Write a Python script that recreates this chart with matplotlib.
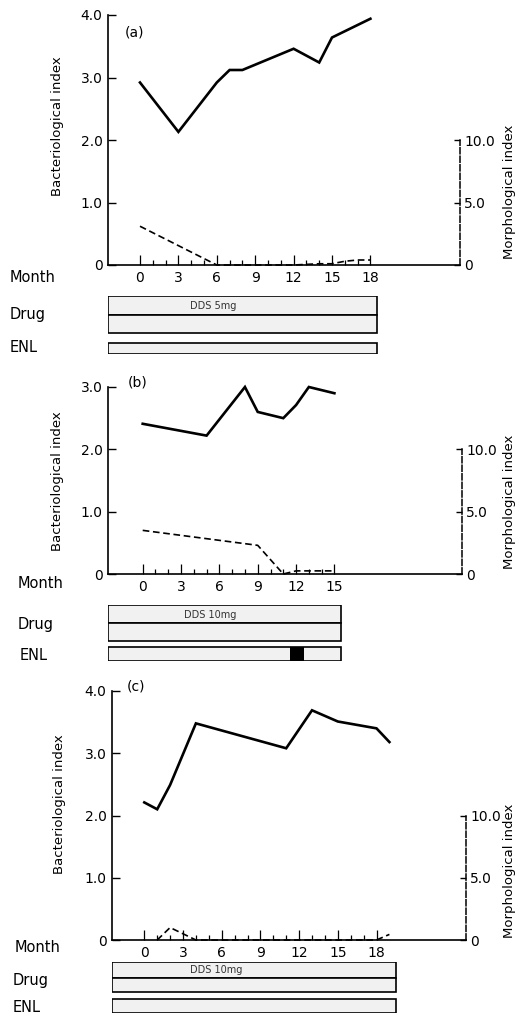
import matplotlib
matplotlib.use("Agg")
import matplotlib.pyplot as plt

# ---- data ----
panel_names = ["(a)", "(b)", "(c)"]

months_a = [0, 3, 6, 7, 8, 12, 14, 15, 18]
bi_a = [2.92, 2.13, 2.92, 3.12, 3.12, 3.46, 3.24, 3.64, 3.94]
mi_months_a = [0, 6, 9, 12, 14, 15, 16, 17, 18]
mi_a = [3.1, 0, 0, 0, 0.1, 0.1, 0.3, 0.4, 0.4]

months_b = [0, 5, 8, 9, 11, 12, 13, 15]
bi_b = [2.41, 2.22, 3.0, 2.6, 2.5, 2.71, 3.0, 2.9]
mi_months_b = [0, 9, 11, 12, 13, 14, 15]
mi_b = [3.5, 2.3, 0, 0.25, 0.25, 0.25, 0.25]

months_c = [0, 1, 2, 4, 11, 13, 15, 18, 19]
bi_c = [2.21, 2.10, 2.49, 3.48, 3.08, 3.69, 3.51, 3.40, 3.18]
mi_months_c = [1, 2, 4, 18, 19]
mi_c = [0, 1.0, 0, 0, 0.45]

bi_top = [4.0, 3.0, 4.0]
last_month_tick = [18, 15, 18]
drug_labels = ["DDS 5mg", "DDS 10mg", "DDS 10mg"]
drug_end = [18.5, 15.5, 19.5]
enl_events = [[], [(11.5, 12.6)], []]

mi_ticks = [0, 5, 10]
mi_ticklabels = ["0", "5.0", "10.0"]
MI_PER_BI = 5.0  # 10.0 on the right axis sits level with 2.0 on the left

# ---- layout in pixels (left, top, right, bottom) ----
W, H = 519, 1015
chart_px = [(108, 15, 460, 265), (108, 387, 462, 574), (112, 691, 466, 940)]
zero_px = [140, 142.7, 144.3]
px_per_month = [12.8, 12.78, 12.9]
bars_px = [(296, 315, 333, 343, 354), (605, 623, 641, 647, 661), (962, 978, 992, 999, 1013)]
row_labels_px = [((10, 277), (10, 315), (10, 348)),
                 ((18, 584), (18, 625), (20, 655)),
                 ((15, 948), (13, 980), (13, 1007))]
ylabel_px = [(58, 126), (58, 481), (60, 804)]
rlabel_px = [(510, 192), (510, 502), (510, 871)]
letter_px = [(125, 33), (128, 383), (127, 687)]
drug_text_px = [(213, 306), (210, 615), (216, 970)]

plt.rcParams["font.family"] = ["DejaVu Sans"]

fig = plt.figure(figsize=(W / 100, H / 100), dpi=100)


def box(l, t, r, b):
    return [l / W, 1 - b / H, (r - l) / W, (b - t) / H]


def fx(x):
    return x / W


def fy(y):
    return 1 - y / H


series = [
    (months_a, bi_a, mi_months_a, mi_a),
    (months_b, bi_b, mi_months_b, mi_b),
    (months_c, bi_c, mi_months_c, mi_c),
]

for i, (mx, bi, mmx, mi) in enumerate(series):
    l, t, r, b = chart_px[i]
    x0 = -(zero_px[i] - l) / px_per_month[i]
    x1 = (r - zero_px[i]) / px_per_month[i]

    ax = fig.add_axes(box(l, t, r, b))
    ax.set_xlim(x0, x1)
    ax.set_ylim(0, bi_top[i])
    ax.plot(mx, bi, color="black", lw=1.9, solid_joinstyle="miter", clip_on=False)
    for s in ["top", "right"]:
        ax.spines[s].set_visible(False)
    for s in ["left", "bottom"]:
        ax.spines[s].set_linewidth(1.2)
    ax.patch.set_visible(False)

    yt = [k for k in range(int(bi_top[i]) + 1)]
    ax.set_yticks(yt)
    ax.set_yticklabels(["0"] + [f"{v:.1f}" for v in yt[1:]])
    ax.tick_params(axis="y", direction="in", length=6, width=1.0, pad=4, labelsize=10)
    ax.set_xticks(range(0, last_month_tick[i] + 1, 3))
    ax.set_xticks(range(0, last_month_tick[i] + 1), minor=True)
    ax.tick_params(axis="x", which="major", direction="in", length=7.5, width=0.9, pad=4, labelsize=10)
    ax.tick_params(axis="x", which="minor", direction="in", length=3.8, width=0.9)

    ax2 = ax.twinx()
    ax2.set_xlim(x0, x1)
    ax2.set_ylim(0, bi_top[i] * MI_PER_BI)
    ax2.plot(mmx, mi, color="black", lw=1.2, dashes=(4, 2.2), clip_on=False)
    for s in ["top", "left", "bottom"]:
        ax2.spines[s].set_visible(False)
    ax2.spines["right"].set_bounds(0, 10)
    ax2.spines["right"].set_linestyle((0, (4, 1.6)))
    ax2.spines["right"].set_linewidth(1.1)
    ax2.set_yticks(mi_ticks)
    ax2.set_yticklabels(mi_ticklabels)
    ax2.tick_params(axis="y", direction="in", length=4.5, width=1.0, pad=3, labelsize=10)

    # treatment bars below the chart, sharing the month scale
    dt, dm, db, et, eb = bars_px[i]
    bx = fig.add_axes(box(l, dt, r, eb))
    bx.set_xlim(x0, x1)
    bx.set_ylim(eb, dt)
    bx.axis("off")
    bar_kw = dict(color="#f1f1f1", edgecolor="black", linewidth=1.2, align="edge")
    bx.barh(dt, drug_end[i] - x0, height=dm - dt, left=x0, **bar_kw)
    bx.barh(dm, drug_end[i] - x0, height=db - dm, left=x0, **bar_kw)
    bx.barh(et, drug_end[i] - x0, height=eb - et, left=x0, **bar_kw)
    for s0, s1 in enl_events[i]:
        bx.barh(et, s1 - s0, height=eb - et, left=s0, color="black", align="edge")

    fig.text(fx(drug_text_px[i][0]), fy(drug_text_px[i][1]), drug_labels[i],
             ha="center", va="center", fontsize=7, color="#333333")

    (mxp, myp), (dxp, dyp), (exp_, eyp) = row_labels_px[i]
    fig.text(fx(mxp), fy(myp), "Month", ha="left", va="center", fontsize=10.5)
    fig.text(fx(dxp), fy(dyp), "Drug", ha="left", va="center", fontsize=10.5)
    fig.text(fx(exp_), fy(eyp), "ENL", ha="left", va="center", fontsize=10.5)

    fig.text(fx(ylabel_px[i][0]), fy(ylabel_px[i][1]), "Bacteriological index",
             rotation=90, ha="center", va="center", fontsize=9.5)
    fig.text(fx(rlabel_px[i][0]), fy(rlabel_px[i][1]), "Morphological index",
             rotation=90, ha="center", va="center", fontsize=9.5)
    fig.text(fx(letter_px[i][0]), fy(letter_px[i][1]), panel_names[i],
             ha="left", va="center", fontsize=10)

fig.savefig("out.png", dpi=100)
